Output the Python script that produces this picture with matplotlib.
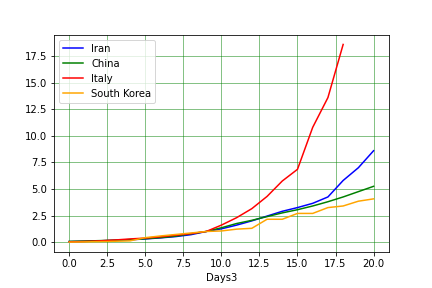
import matplotlib
matplotlib.use('Agg')
import matplotlib.pyplot as plt
import numpy as np

# days since start, values scaled to day 9
days = np.arange(21)
days_italy = np.arange(19)

iran = [0.05, 0.08, 0.12, 0.17, 0.22, 0.3, 0.4, 0.52, 0.7, 1.0,
        1.25, 1.6, 2.0, 2.45, 2.9, 3.25, 3.65, 4.25, 5.8, 7.0, 8.6]
china = [0.07, 0.1, 0.14, 0.18, 0.24, 0.32, 0.42, 0.56, 0.78, 1.0,
         1.35, 1.75, 2.05, 2.4, 2.75, 3.05, 3.4, 3.8, 4.25, 4.75, 5.25]
italy = [0.03, 0.06, 0.12, 0.2, 0.3, 0.38, 0.5, 0.65, 0.8, 1.0,
         1.6, 2.3, 3.15, 4.3, 5.75, 6.85, 10.8, 13.6, 18.6]
korea = [0.0, 0.02, 0.05, 0.08, 0.12, 0.42, 0.58, 0.72, 0.86, 1.0,
         1.05, 1.22, 1.3, 2.15, 2.15, 2.7, 2.7, 3.25, 3.4, 3.85, 4.07]

fig = plt.figure(figsize=(6, 4), dpi=72)
plt.subplots_adjust(bottom=0.125)
plt.plot(days, iran, color='blue', label='Iran')
plt.plot(days, china, color='green', label='China')
plt.plot(days_italy, italy, color='red', label='Italy')
plt.plot(days, korea, color='orange', label='South Korea')

plt.grid(color='green', alpha=0.6, linewidth=0.8)
plt.xlabel('Days3')
plt.legend(loc='upper left')

plt.savefig('out.png', dpi=72)
